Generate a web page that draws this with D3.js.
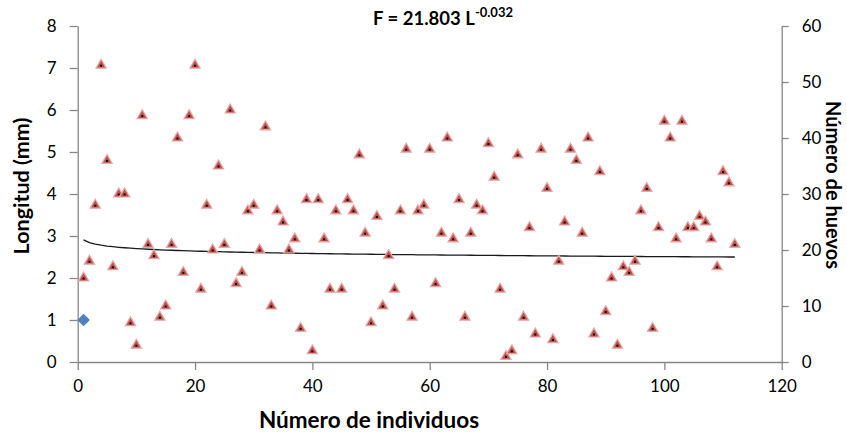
<!DOCTYPE html>
<html>
<head>
<meta charset="utf-8">
<script src="https://cdn.jsdelivr.net/npm/d3@7"></script>
<style>
  html, body { margin: 0; padding: 0; background: #fff; }
  svg { display: block; }
  text { font-family: Lato, "Open Sans", "Liberation Sans", sans-serif; }
</style>
</head>
<body>
<svg id="chart" width="847" height="437"></svg>
<script>
// ---- Data ----
// Número de huevos for individuals 1..112 (right axis)
const huevos = [
  15, 18, 28, 53, 36, 17, 30, 30, 7, 3,
  44, 21, 19, 8, 10, 21, 40, 16, 44, 53,
  13, 28, 20, 35, 21, 45, 14, 16, 27, 28,
  20, 42, 10, 27, 25, 20, 22, 6, 29, 2,
  29, 22, 13, 27, 13, 29, 27, 37, 23, 7,
  26, 10, 19, 13, 27, 38, 8, 27, 28, 38,
  14, 23, 40, 22, 29, 8, 23, 28, 27, 39,
  33, 13, 1, 2, 37, 8, 24, 5, 38, 31,
  4, 18, 25, 38, 36, 23, 40, 5, 34, 9,
  15, 3, 17, 16, 18, 27, 31, 6, 24, 43,
  40, 22, 43, 24, 24, 26, 25, 22, 17, 34,
  32, 21
];
// Longitud (mm) series (left axis): a single point
const longitudX = [1];
const longitudY = [1];
// Power trend line shown in the title: F = a * L^b
const trendA = 21.803;
const trendB = -0.032;
const trendRange = [1, 112];
// Tick labels
const xTicks = [0, 20, 40, 60, 80, 100, 120];
const yLeftTicks = [0, 1, 2, 3, 4, 5, 6, 7, 8];
const yRightTicks = [0, 10, 20, 30, 40, 50, 60];

// ---- Layout ----
const svg = d3.select("#chart");
const X0 = 77.7, X1 = 781.7, YT = 26, YB = 362;
const axisColor = "#868686";

const x = d3.scaleLinear().domain([0, 120]).range([X0, X1]);
const yL = d3.scaleLinear().domain([0, 8]).range([YB, YT]);
const yR = d3.scaleLinear().domain([0, 60]).range([YB, YT]);

svg.append("rect").attr("width", 847).attr("height", 437).attr("fill", "#fff");

function styleAxis(g) {
  g.select(".domain").attr("stroke", axisColor).attr("stroke-width", 1.3);
  g.selectAll(".tick line").attr("stroke", axisColor).attr("stroke-width", 1.3);
  g.selectAll(".tick text").attr("fill", "#000").style("font-size", "17px")
    .style("font-family", "Lato, 'Open Sans', sans-serif");
}

// Bottom axis
svg.append("g").attr("transform", `translate(0,${YB})`)
  .call(d3.axisBottom(x).tickValues(xTicks).tickFormat(d3.format("d"))
    .tickSize(8).tickSizeOuter(0).tickPadding(10))
  .call(styleAxis);

// Left axis
svg.append("g").attr("transform", `translate(${X0},0)`)
  .call(d3.axisLeft(yL).tickValues(yLeftTicks).tickFormat(d3.format("d"))
    .tickSize(8).tickSizeOuter(0).tickPadding(13))
  .call(styleAxis);

// Right axis
svg.append("g").attr("transform", `translate(${X1},0)`)
  .call(d3.axisRight(yR).tickValues(yRightTicks).tickFormat(d3.format("d"))
    .tickSize(7).tickSizeOuter(0).tickPadding(13))
  .call(styleAxis);

// Trend line (power fit, right axis)
const trendPts = [];
for (let L = trendRange[0]; L <= trendRange[1]; L++) trendPts.push([L, trendA * Math.pow(L, trendB)]);
svg.append("path")
  .datum(trendPts)
  .attr("fill", "none")
  .attr("stroke", "#1a1a1a")
  .attr("stroke-width", 1.3)
  .attr("d", d3.line().x(d => x(d[0])).y(d => yR(d[1])));

// Triangles: Número de huevos
const tri = d3.symbol().type(d3.symbolTriangle).size(46);
const pts = svg.append("g");
huevos.forEach((v, i) => {
  const cx = x(i + 1), cy = yR(v);
  pts.append("path").attr("d", tri())
    .attr("transform", `translate(${cx},${cy})`)
    .attr("fill", "#C0504D").attr("stroke", "#E8AAA8").attr("stroke-width", 1.2);
  pts.append("rect").attr("x", cx - 1).attr("y", cy - 0.5).attr("width", 2).attr("height", 2)
    .attr("fill", "#000");
});

// Diamond: Longitud (left axis)
const dia = d3.symbol().type(d3.symbolSquare).size(80);
longitudX.forEach((lx, i) => {
  svg.append("path").attr("d", dia())
    .attr("transform", `translate(${x(lx)},${yL(longitudY[i])}) rotate(45)`)
    .attr("fill", "#4F81BD");
});

// Title
const title = svg.append("text").attr("x", 443).attr("y", 25)
  .attr("text-anchor", "middle").style("font-weight", "bold").style("font-size", "18.5px").attr("fill", "#000");
title.append("tspan").text("F = 21.803 L");
title.append("tspan").attr("dy", -8).style("font-size", "13px").text("-0.032");

// Axis titles
svg.append("text")
  .attr("transform", `translate(29,186) rotate(-90)`)
  .attr("text-anchor", "middle").style("font-weight", "bold").style("font-size", "21.5px")
  .attr("fill", "#000").text("Longitud (mm)");

svg.append("text")
  .attr("transform", `translate(826,185) rotate(90)`)
  .attr("text-anchor", "middle").style("font-weight", "bold").style("font-size", "20px")
  .attr("fill", "#000").text("Número de huevos");

svg.append("text")
  .attr("x", 369).attr("y", 428)
  .attr("text-anchor", "middle").style("font-weight", "bold").style("font-size", "22.5px")
  .attr("fill", "#000").text("Número de individuos");
</script>
</body>
</html>
